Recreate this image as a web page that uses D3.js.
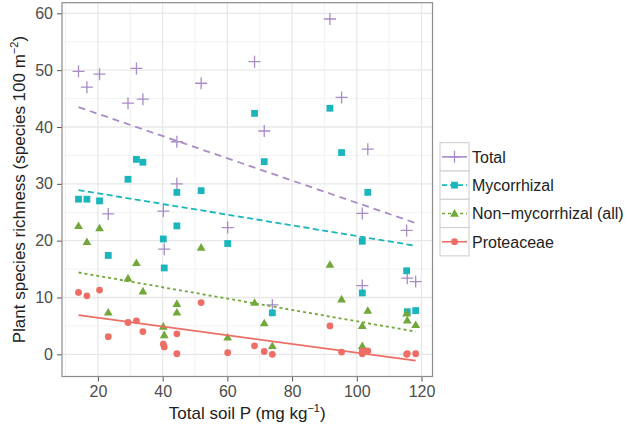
<!DOCTYPE html>
<html><head><meta charset="utf-8">
<script src="https://cdn.jsdelivr.net/npm/d3@7"></script>
<style>body{margin:0;background:#fff}svg{display:block;font-family:"Liberation Sans",Arial,sans-serif}</style>
</head><body><svg id="c" width="627" height="432"></svg>
<script>
const seriesNames = ["Total", "Mycorrhizal", "Non\u2212mycorrhizal (all)", "Proteaceae"];
const soilP = [14.0, 16.6, 20.5, 23.2, 29.3, 31.9, 33.9, 40.2, 40.5, 44.4, 44.4, 51.9, 60.1, 68.4, 71.4, 73.9, 91.7, 95.3, 101.7, 101.7, 103.4, 115.4, 115.6, 118.2];
const totalRich = [49.8, 47.0, 49.3, 24.7, 44.2, 50.3, 44.9, 25.2, 18.5, 37.4, 30.0, 47.7, 22.3, 51.5, 39.3, 8.7, 59.0, 45.2, 24.8, 12.1, 36.1, 21.8, 13.4, 12.8];
const mycRich = [27.3, 27.3, 27.0, 17.4, 30.8, 34.3, 33.8, 20.3, 15.2, 28.5, 22.6, 28.8, 19.5, 42.4, 33.9, 7.3, 43.3, 35.5, 19.9, 10.8, 28.5, 14.7, 7.5, 7.7];
const nonMycRich = [22.6, 19.8, 22.2, 7.4, 13.4, 16.1, 11.1, 4.9, 3.4, 8.9, 7.4, 18.8, 3.0, 9.1, 5.5, 1.5, 15.8, 9.7, 5.0, 1.5, 7.7, 7.2, 6.0, 5.2];
const proteaRich = [10.9, 10.3, 11.3, 3.1, 5.6, 5.9, 4.0, 1.8, 1.3, 3.6, 0.1, 9.1, 0.3, 1.5, 0.5, 0.0, 5.0, 0.4, 0.1, 0.6, 0.6, 0.0, 0.1, 0.1];
// fitted trend line values at min and max soil P
const fitStart = [43.5, 28.9, 14.4, 6.9];
const fitEnd = [23.1, 19.1, 4.0, -1.1];
const xTicks = [20, 40, 60, 80, 100, 120];
const yTicks = [0, 10, 20, 30, 40, 50, 60];
const xMinor = [10, 30, 50, 70, 90, 110];
const yMinor = [5, 15, 25, 35, 45, 55];

const colors = ["#a88bc7", "#1ab6bc", "#72a83a", "#ee6e65"];
const dashes = ["7,5", "6,3.5", "3,3", null];
const values = [totalRich, mycRich, nonMycRich, proteaRich];

const svg = d3.select("#c");
const P = {l: 62, r: 432.5, t: 2.7, b: 376.5};
const x = d3.scaleLinear().domain([8.9, 123.4]).range([P.l, P.r]);
const y = d3.scaleLinear().domain([-3.9, 61.87]).range([P.b, P.t]);

// panel bg + grids
svg.append("rect").attr("x", P.l).attr("y", P.t).attr("width", P.r - P.l).attr("height", P.b - P.t).attr("fill", "#fff");
const g = svg.append("g");
g.selectAll(".xm").data(xMinor).join("line").attr("x1", d => x(d)).attr("x2", d => x(d)).attr("y1", P.t).attr("y2", P.b).attr("stroke", "#f2f2f2").attr("stroke-width", 1);
g.selectAll(".ym").data(yMinor).join("line").attr("y1", d => y(d)).attr("y2", d => y(d)).attr("x1", P.l).attr("x2", P.r).attr("stroke", "#f2f2f2").attr("stroke-width", 1);
g.selectAll(".xM").data(xTicks).join("line").attr("x1", d => x(d)).attr("x2", d => x(d)).attr("y1", P.t).attr("y2", P.b).attr("stroke", "#e8e8e8").attr("stroke-width", 1.3);
g.selectAll(".yM").data(yTicks).join("line").attr("y1", d => y(d)).attr("y2", d => y(d)).attr("x1", P.l).attr("x2", P.r).attr("stroke", "#e8e8e8").attr("stroke-width", 1.3);

// axes
const xAxis = svg.append("g").attr("transform", `translate(0,${P.b})`).call(d3.axisBottom(x).tickValues(xTicks).tickSize(5).tickPadding(4));
const yAxis = svg.append("g").attr("transform", `translate(${P.l},0)`).call(d3.axisLeft(y).tickValues(yTicks).tickSize(5).tickPadding(4));
[xAxis, yAxis].forEach(a => {
  a.select(".domain").remove();
  a.selectAll(".tick line").attr("stroke", "#555").attr("stroke-width", 1);
  a.selectAll(".tick text").attr("fill", "#4d4d4d").style("font-size", "16px").style("font-family", "Liberation Sans, Arial, sans-serif");
});

// symbols
function drawSymbol(sel, k, cx, cy) {
  const c = colors[k];
  if (k === 0) {
    sel.append("path").attr("d", `M${cx-6},${cy}H${cx+6}M${cx},${cy-6}V${cy+6}`).attr("stroke", c).attr("stroke-width", 1.3).attr("fill", "none");
  } else if (k === 1) {
    sel.append("rect").attr("x", cx-3.4).attr("y", cy-3.4).attr("width", 6.8).attr("height", 6.8).attr("fill", c);
  } else if (k === 2) {
    sel.append("path").attr("d", `M${cx},${cy-4.4}L${cx+4.4},${cy+3.2}L${cx-4.4},${cy+3.2}Z`).attr("fill", c);
  } else {
    sel.append("circle").attr("cx", cx).attr("cy", cy).attr("r", 3.4).attr("fill", c);
  }
}

const marks = svg.append("g");
values.forEach((vals, k) => {
  const sg = marks.append("g");
  vals.forEach((v, i) => drawSymbol(sg, k, x(soilP[i]), y(v)));
});
// trend lines
const xmin = d3.min(soilP), xmax = d3.max(soilP);
values.forEach((vals, k) => {
  const ln = marks.append("line").attr("x1", x(xmin)).attr("x2", x(xmax)).attr("y1", y(fitStart[k])).attr("y2", y(fitEnd[k]))
    .attr("stroke", colors[k]).attr("stroke-width", 1.8);
  if (dashes[k]) ln.attr("stroke-dasharray", dashes[k]);
});

// panel border
svg.append("rect").attr("x", P.l).attr("y", P.t).attr("width", P.r - P.l).attr("height", P.b - P.t).attr("fill", "none").attr("stroke", "#8c8c8c").attr("stroke-width", 1.2);

// axis titles
const xt = svg.append("text").attr("x", (P.l + P.r) / 2).attr("y", 419).attr("text-anchor", "middle").style("font-size", "17px").attr("fill", "#222");
xt.append("tspan").text("Total soil P (mg kg");
xt.append("tspan").text("\u22121").style("font-size", "11px").attr("dy", -7);
xt.append("tspan").text(")").attr("dy", 7);
const yt = svg.append("text").attr("transform", `translate(25,${(P.t + P.b) / 2}) rotate(-90)`).attr("text-anchor", "middle").style("font-size", "17px").attr("fill", "#222");
yt.append("tspan").text("Plant species richness (species 100 m");
yt.append("tspan").text("\u22122").style("font-size", "11px").attr("dy", -7);
yt.append("tspan").text(")").attr("dy", 7);

// legend
const L = {x: 440, y: 142.7, w: 29, h: 28.3};
const leg = svg.append("g");
seriesNames.forEach((name, k) => {
  const ky = L.y + k * L.h;
  leg.append("rect").attr("x", L.x).attr("y", ky).attr("width", L.w).attr("height", L.h).attr("fill", "#fff").attr("stroke", "#cccccc").attr("stroke-width", 1);
  const ln = leg.append("line").attr("x1", L.x + 2).attr("x2", L.x + L.w - 2).attr("y1", ky + L.h / 2).attr("y2", ky + L.h / 2).attr("stroke", colors[k]).attr("stroke-width", 1.6);
  if (k === 1) ln.attr("stroke-dasharray", "5,3");
  if (k === 2) ln.attr("stroke-dasharray", "3,3");
  drawSymbol(leg, k, L.x + L.w / 2, ky + L.h / 2);
  leg.append("text").attr("x", L.x + L.w + 3).attr("y", ky + L.h / 2).attr("dy", "0.36em").style("font-size", "16px").attr("fill", "#222").text(name);
});
</script></body></html>
